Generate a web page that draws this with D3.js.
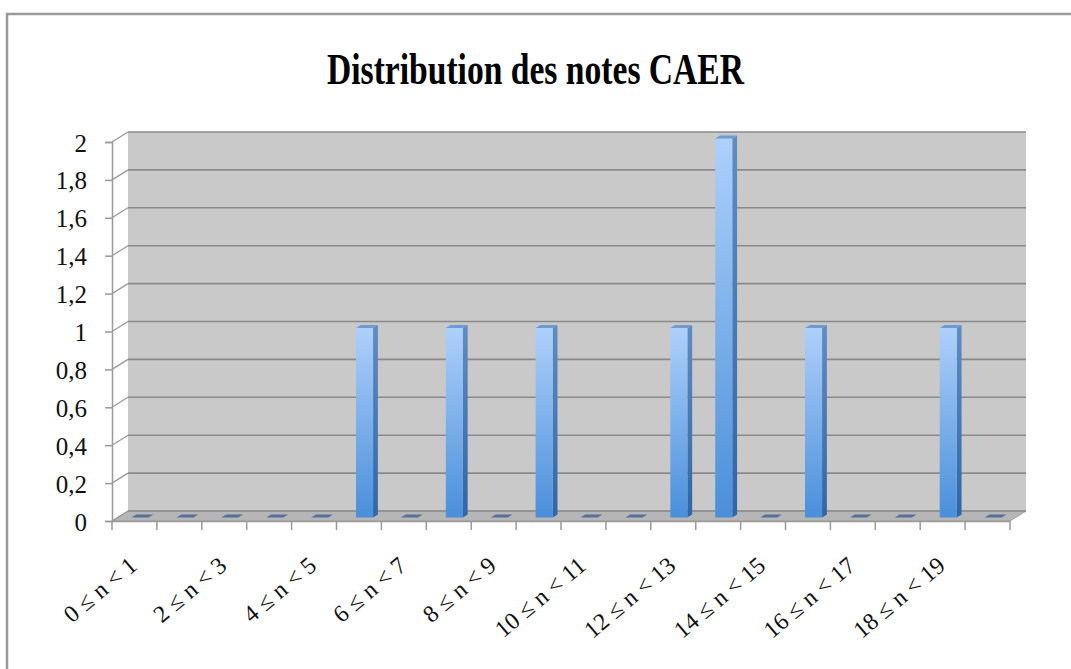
<!DOCTYPE html>
<html>
<head>
    <meta charset="utf-8">
    <style>
        body {
            margin: 0;
            background-color: #FFF;
        }
        svg { display: block; }
        .title { font-family: "Liberation Serif", serif; font-weight: bold; }
        .lbl { font-family: "Liberation Serif", serif; fill: #111; }
    </style>
</head>
<body>
<div id="chartArea"></div>
<script src="https://d3js.org/d3.v7.min.js"></script>
<script>
    /* -----------------------------------
        data
    ----------------------------------- */
    var categories = [];
    for (var k = 0; k < 20; k++) categories.push(k + " \u2264 n < " + (k + 1));

    var counts = [0, 0, 0, 0, 0, 1, 0, 1, 0, 1, 0, 0, 1, 2, 0, 1, 0, 0, 1, 0];

    var yTicks = [0, 0.2, 0.4, 0.6, 0.8, 1, 1.2, 1.4, 1.6, 1.8, 2];

    // only every other category gets a label
    var shownLabels = categories.filter(function(d, i) { return i % 2 === 0; });

    /* -----------------------------------
        initialize
    ----------------------------------- */
    var width = 1071, height = 669;
    var ddx = 16, ddy = -10;   // depth of the 3d box

    var svg = d3.select("#chartArea").append("svg")
        .attr("width", width)
        .attr("height", height);

    var x = d3.scaleBand().domain(categories).range([112, 1010]);
    var y = d3.scaleLinear().domain([0, 2]).range([521, 142]);
    var bw = x.bandwidth();

    var defs = svg.append("defs");
    var gFront = defs.append("linearGradient").attr("id", "gFront")
        .attr("x1", 0).attr("y1", 0).attr("x2", 0).attr("y2", 1);
    gFront.append("stop").attr("offset", "0%").attr("stop-color", "#aed0fb");
    gFront.append("stop").attr("offset", "100%").attr("stop-color", "#4a8fda");
    var gSide = defs.append("linearGradient").attr("id", "gSide")
        .attr("x1", 0).attr("y1", 0).attr("x2", 0).attr("y2", 1);
    gSide.append("stop").attr("offset", "0%").attr("stop-color", "#5f8cc4");
    gSide.append("stop").attr("offset", "100%").attr("stop-color", "#2f66a8");

    // outer frame
    svg.append("path")
        .attr("d", "M7," + height + " L7,14 L" + width + ",14")
        .attr("fill", "none").attr("stroke", "#9a9a9a").attr("stroke-width", 2.5);

    /* -----------------------------------
        walls
    ----------------------------------- */
    var x0 = x.range()[0], x1 = x.range()[1];

    // back wall
    svg.append("rect")
        .attr("x", x0 + ddx).attr("y", y(2) + ddy)
        .attr("width", x1 - x0).attr("height", y(0) - y(2))
        .attr("fill", "#c9c9c9");

    // floor
    svg.append("path")
        .attr("d", "M" + x0 + "," + y(0) + " L" + x1 + "," + y(0) +
                   " L" + (x1 + ddx) + "," + (y(0) + ddy) + " L" + (x0 + ddx) + "," + (y(0) + ddy) + "Z")
        .attr("fill", "#b6b6b6").attr("stroke", "#a0a0a0").attr("stroke-width", 1);

    // gridlines on back wall + left wall diagonals
    var grid = svg.append("g");
    grid.selectAll(".gl").data(yTicks).enter().append("line")
        .attr("x1", x0 + ddx).attr("x2", x1 + ddx)
        .attr("y1", function(d) { return y(d) + ddy; })
        .attr("y2", function(d) { return y(d) + ddy; })
        .attr("stroke", "#8a8a8a").attr("stroke-width", 1.6);
    grid.selectAll(".dg").data(yTicks).enter().append("line")
        .attr("x1", x0).attr("x2", x0 + ddx)
        .attr("y1", function(d) { return y(d); })
        .attr("y2", function(d) { return y(d) + ddy; })
        .attr("stroke", "#9a9a9a").attr("stroke-width", 1.3);

    /* -----------------------------------
        bars
    ----------------------------------- */
    var f0 = 0.35, f1 = 0.65;      // depth fractions of the column
    var bW = bw * 0.38;
    var sx = ddx * (f1 - f0), sy = ddy * (f1 - f0);

    var bars = svg.selectAll(".bar").data(counts).enter().append("g").attr("class", "bar")
        .attr("transform", "translate(" + (ddx * f0) + "," + (ddy * f0) + ")");

    bars.each(function(d, i) {
        var g = d3.select(this);
        var left = x(categories[i]) + bw * 0.31, right = left + bW, top = y(d), bot = y(0);
        if (d === 0) {
            g.append("path")
                .attr("d", "M" + left + "," + bot + " L" + right + "," + bot +
                           " L" + (right + sx) + "," + (bot + sy) + " L" + (left + sx) + "," + (bot + sy) + "Z")
                .attr("fill", "#57709a");
            return;
        }
        // side
        g.append("path")
            .attr("d", "M" + right + "," + top + " L" + (right + sx) + "," + (top + sy) +
                       " L" + (right + sx) + "," + (bot + sy) + " L" + right + "," + bot + "Z")
            .attr("fill", "url(#gSide)");
        // front
        g.append("rect")
            .attr("x", left).attr("y", top)
            .attr("width", bW).attr("height", bot - top)
            .attr("fill", "url(#gFront)");
        // top
        g.append("path")
            .attr("d", "M" + left + "," + top + " L" + right + "," + top +
                       " L" + (right + sx) + "," + (top + sy) + " L" + (left + sx) + "," + (top + sy) + "Z")
            .attr("fill", "#6e9bd3");
    });

    /* -----------------------------------
        axes
    ----------------------------------- */
    var yAxis = d3.axisLeft(y).tickValues(yTicks).tickSize(7).tickPadding(18)
        .tickFormat(function(d) { return String(d).replace(".", ","); });

    var gy = svg.append("g").attr("transform", "translate(" + x0 + ",0)").call(yAxis);
    gy.select(".domain").attr("stroke", "#9a9a9a").attr("stroke-width", 1.5);
    gy.selectAll(".tick line").attr("stroke", "#9a9a9a").attr("stroke-width", 1.5);
    gy.selectAll(".tick text").attr("class", "lbl")
        .style("font-size", "25px").attr("fill", "#111")
        .attr("dy", "0.36em");

    var xAxis = d3.axisBottom(x).tickSize(0).tickFormat("");
    var gx = svg.append("g").attr("transform", "translate(0," + y(0) + ")").call(xAxis);
    gx.select(".domain").attr("stroke", "#9a9a9a").attr("stroke-width", 1.5);

    // ticks on the category boundaries
    var bounds = categories.map(function(c) { return x(c); }).concat([x1]);
    gx.selectAll(".bt").data(bounds).enter().append("line")
        .attr("x1", function(d) { return d; }).attr("x2", function(d) { return d; })
        .attr("y1", 0).attr("y2", 9)
        .attr("stroke", "#9a9a9a").attr("stroke-width", 1.5);

    svg.selectAll(".xl").data(shownLabels).enter().append("text")
        .attr("class", "lbl")
        .style("font-size", "24px")
        .attr("text-anchor", "end")
        .attr("transform", function(d) {
            return "translate(" + (x(d) + bw / 2 + 4) + "," + (y(0) + 47) + ") rotate(-40)";
        })
        .text(function(d) { return d; });

    /* -----------------------------------
        title
    ----------------------------------- */
    svg.append("text")
        .attr("class", "title")
        .attr("x", 327).attr("y", 84)
        .attr("textLength", 417)
        .attr("lengthAdjust", "spacingAndGlyphs")
        .style("font-size", "44px")
        .text("Distribution des notes CAER");
</script>
</body>
</html>
